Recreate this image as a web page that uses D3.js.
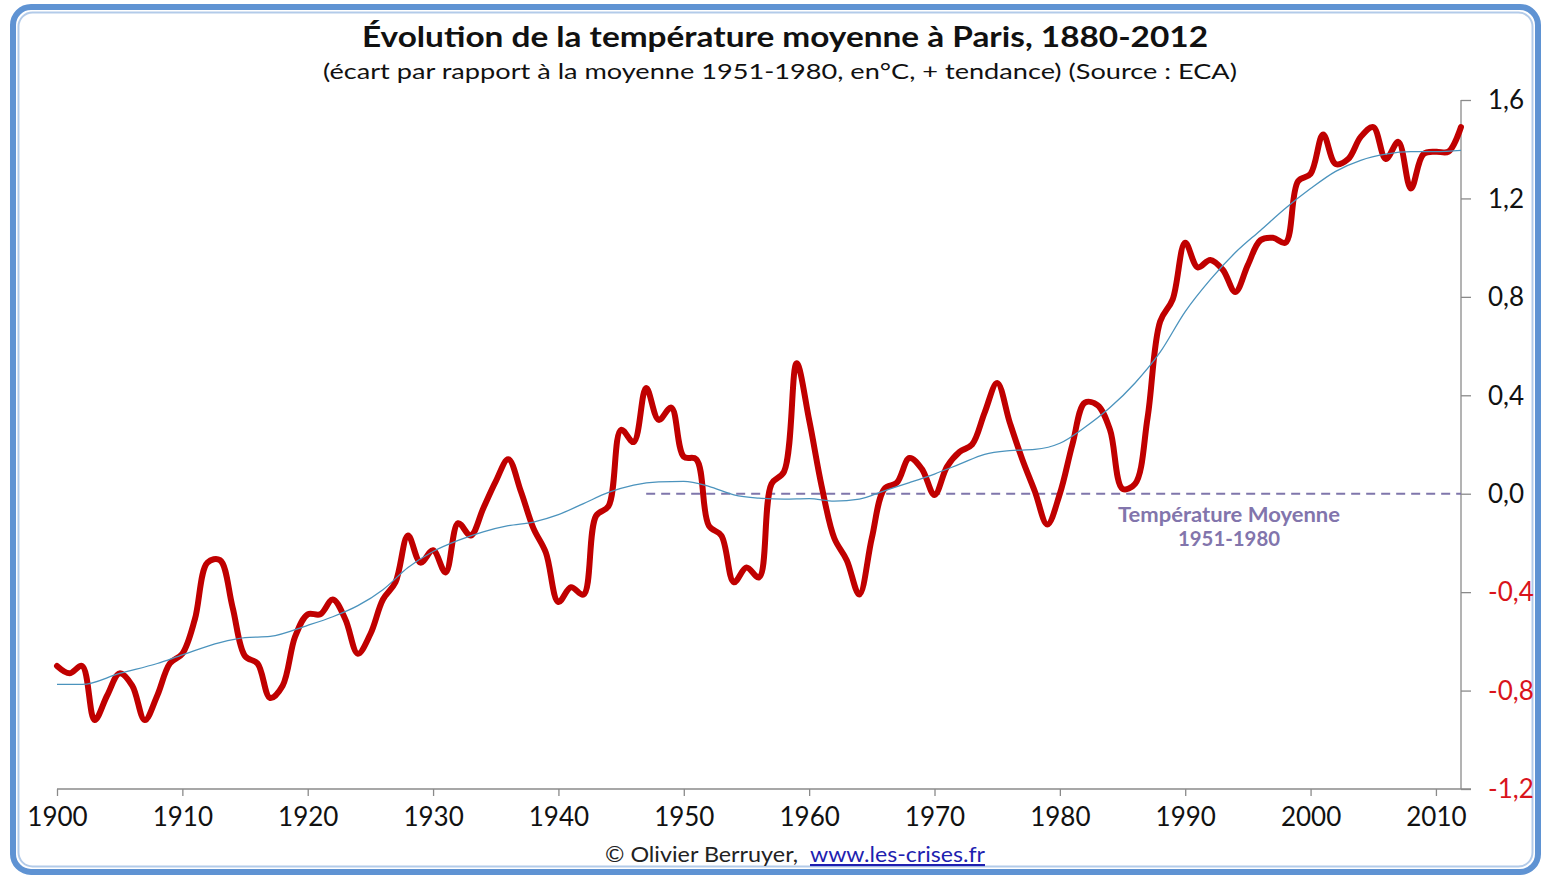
<!DOCTYPE html>
<html>
<head>
<meta charset="utf-8">
<script src="https://cdn.jsdelivr.net/npm/d3@7"></script>
<style>
  html, body { margin: 0; padding: 0; background: #ffffff; }
  svg { display: block; }
</style>
</head>
<body>
<svg id="chart" width="1542" height="876"></svg>
<script>
// ---------- DATA ----------
const years = d3.range(1900, 2013);
const temperature = [
  -0.70, -0.73, -0.70, -0.92, -0.82, -0.73, -0.78, -0.92, -0.82, -0.69, // 1900-1909
  -0.65, -0.51, -0.28, -0.27, -0.46, -0.66, -0.69, -0.83, -0.78, -0.58, // 1910-1919
  -0.49, -0.49, -0.43, -0.51, -0.65, -0.57, -0.43, -0.36, -0.17, -0.28, // 1920-1929
  -0.23, -0.32, -0.12, -0.17, -0.06, 0.05, 0.14, 0.01, -0.14, -0.24,    // 1930-1939
  -0.44, -0.38, -0.41, -0.09, -0.05, 0.26, 0.21, 0.43, 0.30, 0.35,      // 1940-1949
  0.15, 0.14, -0.13, -0.17, -0.36, -0.30, -0.34, 0.04, 0.09, 0.53,      // 1950-1959
  0.30, 0.03, -0.18, -0.27, -0.41, -0.18, 0.02, 0.045, 0.145, 0.10,     // 1960-1969
  -0.005, 0.11, 0.17, 0.20, 0.33, 0.45, 0.29, 0.14, 0.01, -0.125,       // 1970-1979
  0.00, 0.20, 0.37, 0.36, 0.26, 0.02, 0.04, 0.31, 0.70, 0.79,           // 1980-1989
  1.02, 0.92, 0.95, 0.91, 0.82, 0.93, 1.03, 1.04, 1.02, 1.27,           // 1990-1999
  1.30, 1.46, 1.34, 1.36, 1.45, 1.49, 1.36, 1.43, 1.24, 1.38,           // 2000-2009
  1.39, 1.39, 1.49                                                      // 2010-2012
];
const trendYears = [1900, 1902, 1905, 1908, 1910, 1913, 1915, 1917, 1920, 1922, 1924, 1926, 1928, 1930,
  1932, 1934, 1936, 1938, 1940, 1942, 1944, 1946, 1948, 1950, 1952, 1954, 1956, 1958, 1960, 1962, 1964,
  1966, 1968, 1970, 1972, 1974, 1976, 1978, 1980, 1982, 1984, 1986, 1988, 1990, 1992, 1994, 1996, 1998,
  2000, 2002, 2004, 2006, 2008, 2010, 2012];
const trendValues = [-0.775, -0.775, -0.73, -0.69, -0.655, -0.605, -0.585, -0.58, -0.535, -0.50, -0.455,
  -0.39, -0.30, -0.235, -0.19, -0.155, -0.13, -0.115, -0.085, -0.04, 0.005, 0.035, 0.048, 0.05, 0.03,
  -0.005, -0.018, -0.022, -0.02, -0.03, -0.022, 0.012, 0.045, 0.08, 0.12, 0.16, 0.175, 0.18, 0.205, 0.27,
  0.35, 0.45, 0.575, 0.74, 0.87, 0.98, 1.07, 1.16, 1.24, 1.31, 1.355, 1.38, 1.39, 1.39, 1.395];
const xTickYears = d3.range(1900, 2011, 10);
const yTickValues = [-1.2, -0.8, -0.4, 0.0, 0.4, 0.8, 1.2, 1.6];
const baselineStartYear = 1947;
const titleText = "Évolution de la température moyenne à Paris, 1880-2012";
const subtitleText = "(écart par rapport à la moyenne 1951-1980,  en°C, + tendance) (Source : ECA)";
const annotationLines = ["Température Moyenne", "1951-1980"];
const creditText = "© Olivier Berruyer,";
const creditLink = "www.les-crises.fr";

// ---------- LAYOUT ----------
const svg = d3.select("#chart");
const FONT = "Lato, 'Open Sans', sans-serif";

// frame
svg.append("rect").attr("x", 13).attr("y", 7).attr("width", 1525).attr("height", 865)
  .attr("rx", 18).attr("fill", "#ffffff").attr("stroke", "#5f93d3").attr("stroke-width", 6);
svg.append("rect").attr("x", 18.5).attr("y", 12.5).attr("width", 1514).attr("height", 854)
  .attr("rx", 14).attr("fill", "none").attr("stroke", "#b3cbe9").attr("stroke-width", 2);

const x = d3.scaleLinear().domain([1900, 2012]).range([57, 1461]);
const y = d3.scaleLinear().domain([-1.2, 1.6]).range([789, 100]);

// titles
svg.append("text").attr("x", 785).attr("y", 47).attr("text-anchor", "middle")
  .attr("font-family", FONT).attr("font-weight", "bold").attr("font-size", 28)
  .attr("fill", "#111").attr("textLength", 846).attr("lengthAdjust", "spacingAndGlyphs")
  .text(titleText);
svg.append("text").attr("x", 780).attr("y", 79).attr("text-anchor", "middle")
  .attr("font-family", FONT).attr("font-size", 22)
  .attr("fill", "#111").attr("textLength", 914).attr("lengthAdjust", "spacingAndGlyphs")
  .text(subtitleText);

// y axis
const yAxis = d3.axisRight(y).tickValues(yTickValues).tickSize(10).tickPadding(17)
  .tickFormat(d => d3.format(".1f")(d).replace(".", ",").replace("−", "-"));
const gy = svg.append("g").attr("transform", `translate(${x(2012)},0)`).call(yAxis);
gy.select(".domain").attr("stroke", "#8a8a8a").attr("stroke-width", 1.3).attr("d", `M0,${y(1.6)}V${y(-1.2)}`);
gy.selectAll(".tick line").attr("stroke", "#8a8a8a").attr("stroke-width", 1.3);
gy.selectAll(".tick text").attr("font-family", FONT).attr("font-size", 26)
  .attr("fill", d => d < 0 ? "#d9141c" : "#111").attr("dy", "0.34em");

// x axis
const xAxis = d3.axisBottom(x).tickValues(xTickYears).tickSize(7).tickPadding(12).tickFormat(d3.format("d"));
const gx = svg.append("g").attr("transform", `translate(0,${y(-1.2)})`).call(xAxis);
gx.select(".domain").attr("stroke", "#8a8a8a").attr("stroke-width", 1.3).attr("d", `M${x(1900)},0H${x(2012) + 10}`);
gx.selectAll(".tick line").attr("stroke", "#8a8a8a").attr("stroke-width", 1.3);
gx.selectAll(".tick text").attr("font-family", FONT).attr("font-size", 26).attr("fill", "#111");

// baseline dashed
svg.append("line").attr("x1", x(baselineStartYear)).attr("x2", x(2012))
  .attr("y1", y(0)).attr("y2", y(0))
  .attr("stroke", "#7f76ab").attr("stroke-width", 2).attr("stroke-dasharray", "9,6");

// annotation
const annWidths = [222, 102];
annotationLines.forEach((t, i) => {
  svg.append("text").attr("x", 1229).attr("y", 522 + i * 24).attr("text-anchor", "middle")
    .attr("font-family", FONT).attr("font-weight", "bold").attr("font-size", 20)
    .attr("textLength", annWidths[i]).attr("lengthAdjust", "spacingAndGlyphs")
    .attr("fill", "#8275ac").text(t);
});

// temperature line
const line = d3.line().x((d, i) => x(years[i])).y(d => y(d)).curve(d3.curveCatmullRom.alpha(0.5));
svg.append("path").datum(temperature).attr("d", line)
  .attr("fill", "none").attr("stroke", "#c00000").attr("stroke-width", 6)
  .attr("stroke-linejoin", "round").attr("stroke-linecap", "round");

// trend line
const tline = d3.line().x((d, i) => x(trendYears[i])).y(d => y(d)).curve(d3.curveMonotoneX);
svg.append("path").datum(trendValues).attr("d", tline)
  .attr("fill", "none").attr("stroke", "#4b93bd").attr("stroke-width", 1.3);

// credit
svg.append("text").attr("x", 605).attr("y", 862).attr("text-anchor", "start")
  .attr("font-family", FONT).attr("font-size", 21).attr("fill", "#222")
  .attr("textLength", 193).attr("lengthAdjust", "spacingAndGlyphs").text(creditText);
svg.append("text").attr("x", 810).attr("y", 862).attr("text-anchor", "start")
  .attr("font-family", FONT).attr("font-size", 21).attr("fill", "#1f1fb0")
  .attr("textLength", 175).attr("lengthAdjust", "spacingAndGlyphs")
  .attr("text-decoration", "underline").text(creditLink);
</script>
</body>
</html>
